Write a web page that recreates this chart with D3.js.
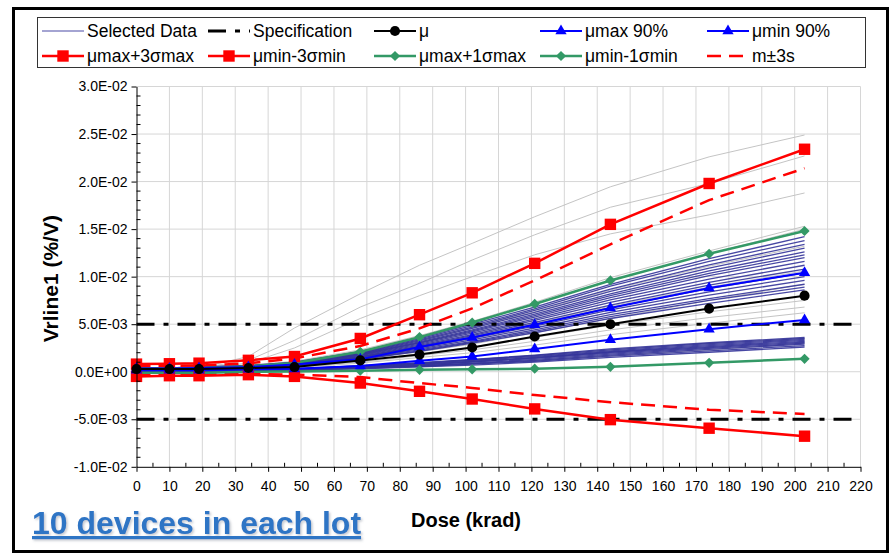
<!DOCTYPE html>
<html>
<head>
<meta charset="utf-8">
<script src="https://cdn.jsdelivr.net/npm/d3@7"></script>
<style>
  html, body { margin: 0; padding: 0; background: #fff; }
  svg { display: block; font-family: "Liberation Sans", Arial, sans-serif; }
</style>
</head>
<body>
<svg id="chart" width="893" height="555"></svg>
<script>
// Vrline1 drift versus total dose. All values are in units of 1e-3 %/V.
const doses = [0, 10, 19, 34, 48, 68, 86, 102, 121, 144, 174, 203];

const xTicks = d3.range(0, 221, 10);
const yTicks = [-10, -5, 0, 5, 10, 15, 20, 25, 30];
const specLimits = [5, -5];
const specDoseRange = [0, 220];

// statistics
const mu               = [0.28, 0.28, 0.28, 0.39, 0.49, 1.19, 1.80, 2.55, 3.70, 5.00, 6.64, 8.00];
const muMax90          = [0.35, 0.35, 0.40, 0.50, 0.75, 1.30, 2.60, 3.60, 4.95, 6.70, 8.80, 10.40];
const muMin90          = [0.15, 0.15, 0.15, 0.25, 0.30, 0.60, 1.16, 1.60, 2.38, 3.36, 4.48, 5.45];
const muMaxPlus3Sigma  = [0.80, 0.84, 0.90, 1.20, 1.60, 3.50, 6.00, 8.30, 11.40, 15.50, 19.80, 23.40];
const muMinMinus3Sigma = [-0.49, -0.42, -0.42, -0.31, -0.49, -1.19, -2.06, -2.87, -3.91, -5.04, -5.94, -6.78];
const muMaxPlus1Sigma  = [0.30, 0.30, 0.40, 0.56, 0.91, 2.10, 3.64, 5.17, 7.13, 9.60, 12.40, 14.80];
const muMinMinus1Sigma = [-0.12, -0.12, -0.14, 0.00, 0.03, 0.10, 0.20, 0.25, 0.32, 0.52, 0.94, 1.36];
const mPlus3s          = [0.60, 0.60, 0.65, 0.88, 1.40, 2.70, 4.56, 6.67, 9.60, 13.40, 18.05, 21.40];
const mMinus3s         = [-0.35, -0.30, -0.30, -0.25, -0.30, -0.56, -1.20, -1.70, -2.45, -3.20, -4.00, -4.44];

// selected devices, upper lots
const selectedUpper = [
  [0.40, 0.40, 0.50, 0.65, 1.00, 2.10, 3.55, 5.00, 6.80, 9.20, 11.90, 14.20],
  [0.40, 0.40, 0.50, 0.60, 0.95, 2.05, 3.45, 4.85, 6.60, 9.00, 11.60, 13.80],
  [0.40, 0.40, 0.45, 0.60, 0.95, 2.00, 3.35, 4.70, 6.45, 8.70, 11.25, 13.40],
  [0.35, 0.40, 0.45, 0.60, 0.90, 1.95, 3.25, 4.55, 6.25, 8.45, 10.90, 13.00],
  [0.35, 0.35, 0.45, 0.55, 0.90, 1.90, 3.15, 4.40, 6.05, 8.20, 10.60, 12.60],
  [0.35, 0.35, 0.45, 0.55, 0.85, 1.85, 3.05, 4.30, 5.90, 8.00, 10.35, 12.30],
  [0.35, 0.35, 0.40, 0.55, 0.85, 1.80, 3.00, 4.20, 5.75, 7.80, 10.10, 12.00],
  [0.35, 0.35, 0.40, 0.50, 0.80, 1.75, 2.90, 4.05, 5.55, 7.55, 9.75, 11.60],
  [0.30, 0.35, 0.40, 0.50, 0.80, 1.70, 2.80, 3.90, 5.40, 7.30, 9.40, 11.20],
  [0.30, 0.30, 0.40, 0.50, 0.75, 1.60, 2.70, 3.80, 5.20, 7.00, 9.10, 10.80],
  [0.30, 0.30, 0.35, 0.45, 0.75, 1.55, 2.60, 3.65, 5.00, 6.75, 8.75, 10.40],
  [0.30, 0.30, 0.35, 0.45, 0.70, 1.50, 2.50, 3.50, 4.80, 6.50, 8.40, 10.00],
  [0.30, 0.30, 0.35, 0.45, 0.65, 1.45, 2.40, 3.35, 4.60, 6.25, 8.05, 9.60],
  [0.30, 0.30, 0.30, 0.40, 0.65, 1.40, 2.30, 3.20, 4.40, 6.00, 7.70, 9.20],
  [0.25, 0.30, 0.30, 0.40, 0.60, 1.35, 2.20, 3.10, 4.25, 5.80, 7.50, 8.90],
  [0.25, 0.25, 0.30, 0.40, 0.60, 1.30, 2.15, 3.00, 4.10, 5.60, 7.20, 8.60]
];

// selected devices, lower lot
const selectedLower = [
  [0.10, 0.10, 0.15, 0.20, 0.30, 0.65, 0.95, 1.30, 1.75, 2.40, 3.05, 3.60],
  [0.10, 0.10, 0.15, 0.20, 0.30, 0.60, 0.90, 1.25, 1.70, 2.30, 2.95, 3.50],
  [0.10, 0.10, 0.10, 0.20, 0.25, 0.55, 0.85, 1.20, 1.60, 2.20, 2.85, 3.40],
  [0.05, 0.10, 0.10, 0.15, 0.25, 0.50, 0.80, 1.10, 1.50, 2.10, 2.75, 3.30],
  [0.05, 0.05, 0.10, 0.15, 0.25, 0.50, 0.75, 1.05, 1.45, 2.05, 2.65, 3.20],
  [0.05, 0.05, 0.10, 0.15, 0.20, 0.45, 0.70, 1.00, 1.40, 1.95, 2.55, 3.10],
  [0.05, 0.05, 0.05, 0.10, 0.20, 0.40, 0.65, 0.90, 1.30, 1.85, 2.45, 3.00],
  [0.00, 0.05, 0.05, 0.10, 0.20, 0.40, 0.60, 0.85, 1.20, 1.75, 2.35, 2.90],
  [0.00, 0.00, 0.05, 0.10, 0.15, 0.35, 0.55, 0.80, 1.10, 1.65, 2.20, 2.75],
  [0.00, 0.00, 0.00, 0.05, 0.15, 0.30, 0.50, 0.70, 1.00, 1.50, 2.05, 2.60]
];

// remaining devices (not selected)
const otherDevices = [
  [0.30, 0.30, 0.40, 1.60, 4.60, 8.20, 11.20, 13.50, 16.30, 19.45, 22.60, 24.90],
  [0.30, 0.30, 0.40, 1.20, 3.30, 6.80, 9.30, 11.75, 14.40, 17.30, 19.80, 22.70],
  [0.30, 0.30, 0.40, 0.90, 2.50, 5.60, 8.00, 10.00, 12.30, 14.50, 16.50, 18.80],
  [0.40, 0.40, 0.50, 0.70, 1.10, 2.30, 3.80, 5.30, 7.30, 9.90, 12.70, 15.30],
  [0.40, 0.40, 0.50, 0.70, 1.00, 2.20, 3.70, 5.20, 7.10, 9.60, 12.40, 15.00],
  [0.30, 0.30, 0.40, 0.60, 0.90, 2.00, 3.30, 4.60, 6.30, 8.60, 11.10, 13.20],
  [0.30, 0.30, 0.40, 0.50, 0.80, 1.60, 2.70, 3.70, 5.10, 6.90, 8.90, 10.60],
  [0.20, 0.20, 0.30, 0.40, 0.70, 1.30, 2.10, 2.90, 4.10, 5.60, 7.50, 9.20],
  [0.20, 0.20, 0.30, 0.40, 0.60, 1.10, 1.90, 2.60, 3.60, 4.90, 6.30, 7.50],
  [0.20, 0.20, 0.30, 0.35, 0.50, 1.00, 1.70, 2.30, 3.20, 4.40, 5.70, 6.80],
  [0.10, 0.10, 0.20, 0.30, 0.45, 0.90, 1.50, 2.00, 2.80, 3.90, 5.10, 6.20],
  [0.10, 0.10, 0.10, 0.20, 0.30, 0.60, 0.90, 1.20, 1.70, 2.30, 3.00, 3.50],
  [0.00, 0.00, 0.10, 0.10, 0.20, 0.40, 0.60, 0.80, 1.20, 1.70, 2.30, 3.00]
];

const UNIT = 1e-3;

// ---------------------------------------------------------------------------
const svg = d3.select("#chart");
const plot = { left: 136.5, right: 860.5, top: 86.5, bottom: 466.8 };

const x = d3.scaleLinear().domain([0, 220]).range([plot.left, plot.right]);
const y = d3.scaleLinear().domain([-10, 30]).range([plot.bottom, plot.top]);

function sci(v) {
  const s = (v * UNIT).toExponential(1);
  let [m, e] = s.split("e");
  const sign = e[0] === "-" ? "-" : "+";
  const digits = e.replace(/^[+-]/, "").padStart(2, "0");
  return m + "E" + sign + digits;
}

const RED = "#ff0000", BLUE = "#0000ff", GREEN = "#339966", NAVY = "#333399", GREY = "#c4c4c4";

// soft shadow for the note text
const defs = svg.append("defs");
const shadow = defs.append("filter").attr("id", "noteShadow")
  .attr("x", "-5%").attr("y", "-20%").attr("width", "115%").attr("height", "150%");
shadow.append("feDropShadow").attr("dx", 1.5).attr("dy", 1.5).attr("stdDeviation", 0.8)
  .attr("flood-color", "#7a8494").attr("flood-opacity", 0.45);

// outer frame
svg.append("rect")
  .attr("x", 13.5).attr("y", 8.5).attr("width", 874).attr("height", 543)
  .attr("fill", "#fff").attr("stroke", "#000").attr("stroke-width", 3);

// gridlines
const grid = svg.append("g").attr("stroke", "#d6d6d6").attr("stroke-width", 1);
grid.selectAll("line.v").data(xTicks.filter(d => d > 0)).join("line")
  .attr("x1", d => x(d)).attr("x2", d => x(d))
  .attr("y1", plot.top).attr("y2", plot.bottom);
grid.selectAll("line.h").data(yTicks.filter(d => d > -10)).join("line")
  .attr("x1", plot.left).attr("x2", plot.right)
  .attr("y1", d => y(d)).attr("y2", d => y(d));

const line = d3.line().x((d, i) => x(doses[i])).y(d => y(d));

// individual devices
svg.append("g").selectAll("path").data(otherDevices).join("path")
  .attr("d", line).attr("fill", "none")
  .attr("stroke", GREY).attr("stroke-width", 1);

svg.append("g").selectAll("path").data(selectedUpper.concat(selectedLower)).join("path")
  .attr("d", line).attr("fill", "none")
  .attr("stroke", NAVY).attr("stroke-opacity", 0.9).attr("stroke-width", 1.3);

// specification limits
const SPEC_DASH = "18,9,5,9";
svg.append("g").selectAll("line").data(specLimits).join("line")
  .attr("x1", x(specDoseRange[0])).attr("x2", x(specDoseRange[1]))
  .attr("y1", d => y(d)).attr("y2", d => y(d))
  .attr("stroke", "#000").attr("stroke-width", 3).attr("stroke-dasharray", SPEC_DASH);

// statistic series
const symSquare = d3.symbol(d3.symbolSquare, 130)();
const symDiamond = d3.symbol(d3.symbolSquare, 52)();
const symTriangle = d3.symbol(d3.symbolTriangle, 55)();
const symCircle = d3.symbol(d3.symbolCircle, 80)();

const series = [
  { name: "μ",            values: mu,               color: "#000", width: 2,   marker: symCircle,   rot: 0 },
  { name: "μmax 90%",     values: muMax90,          color: BLUE,   width: 2,   marker: symTriangle, rot: 0 },
  { name: "μmin 90%",     values: muMin90,          color: BLUE,   width: 2,   marker: symTriangle, rot: 0 },
  { name: "μmax+3σmax",   values: muMaxPlus3Sigma,  color: RED,    width: 2.5, marker: symSquare,   rot: 0 },
  { name: "μmin-3σmin",   values: muMinMinus3Sigma, color: RED,    width: 2.5, marker: symSquare,   rot: 0 },
  { name: "μmax+1σmax",   values: muMaxPlus1Sigma,  color: GREEN,  width: 2.5, marker: symDiamond,  rot: 45 },
  { name: "μmin-1σmin",   values: muMinMinus1Sigma, color: GREEN,  width: 2.5, marker: symDiamond,  rot: 45 },
];

const RED_DASH = "14,8";
[mPlus3s, mMinus3s].forEach(vals => {
  svg.append("path").attr("d", line(vals)).attr("fill", "none")
    .attr("stroke", RED).attr("stroke-width", 2.5).attr("stroke-dasharray", RED_DASH);
});

// draw in reverse so mean sits on top
series.slice().reverse().forEach(s => {
  const g = svg.append("g");
  g.append("path").attr("d", line(s.values)).attr("fill", "none")
    .attr("stroke", s.color).attr("stroke-width", s.width);
  g.selectAll("path.m").data(s.values).join("path").attr("class", "m")
    .attr("d", s.marker)
    .attr("transform", (d, i) => `translate(${x(doses[i])},${y(d)}) rotate(${s.rot})`)
    .attr("fill", s.color);
});

// axes
const fontTick = 14;
const yAxis = d3.axisLeft(y).tickValues(yTicks).tickFormat(sci)
  .tickSizeInner(5).tickSizeOuter(0).tickPadding(4);
const gy = svg.append("g").attr("transform", `translate(${plot.left},0)`).call(yAxis);
gy.selectAll("text").attr("font-size", fontTick).attr("fill", "#000")
  .attr("font-family", '"Liberation Sans", Arial, sans-serif');
gy.selectAll("line, path").attr("stroke", "#000");

// minor y ticks (inside)
svg.append("g").selectAll("line").data(d3.range(-10, 30.01, 1).filter(v => Math.abs(v % 5) > 0.01)).join("line")
  .attr("x1", plot.left).attr("x2", plot.left + 4)
  .attr("y1", d => y(d)).attr("y2", d => y(d)).attr("stroke", "#000");

const xAxis = d3.axisBottom(x).tickValues(xTicks).tickFormat(d3.format("d"))
  .tickSizeInner(5).tickSizeOuter(0).tickPadding(9);
const gx = svg.append("g").attr("transform", `translate(0,${plot.bottom})`).call(xAxis);
gx.selectAll("text").attr("font-size", fontTick).attr("fill", "#000")
  .attr("font-family", '"Liberation Sans", Arial, sans-serif');
gx.selectAll("line, path").attr("stroke", "#000");

svg.append("g").selectAll("line").data(d3.range(5, 220, 10)).join("line")
  .attr("x1", d => x(d)).attr("x2", d => x(d))
  .attr("y1", plot.bottom - 4).attr("y2", plot.bottom).attr("stroke", "#000");

// axis titles
svg.append("text")
  .attr("transform", `translate(50,${(plot.top + plot.bottom) / 2 + 2}) rotate(-90)`)
  .attr("text-anchor", "middle").attr("dominant-baseline", "central")
  .attr("font-size", 21).attr("font-weight", "bold").text("Vrline1 (%/V)");

svg.append("text")
  .attr("x", 466).attr("y", 527).attr("text-anchor", "middle")
  .attr("font-size", 20).attr("font-weight", "bold").text("Dose (krad)");

// note
svg.append("text").attr("x", 32).attr("y", 534)
  .attr("font-size", 32).attr("font-weight", "bold").attr("fill", "#2e74c5")
  .attr("text-decoration", "underline").attr("filter", "url(#noteShadow)")
  .text("10 devices in each lot");

// legend
const legendBox = svg.append("g");
legendBox.append("rect").attr("x", 37.5).attr("y", 17.5).attr("width", 828).attr("height", 50)
  .attr("fill", "#fff").attr("stroke", "#333").attr("stroke-width", 1);

const legendItems = [
  { label: "Selected Data", color: NAVY, width: 1.3, opacity: 0.6, marker: null },
  { label: "Specification", color: "#000", width: 3, dash: SPEC_DASH, marker: null },
  { label: "μ",             color: "#000", width: 2, marker: symCircle, rot: 0 },
  { label: "μmax 90%",      color: BLUE, width: 2, marker: symTriangle, rot: 0 },
  { label: "μmin 90%",      color: BLUE, width: 2, marker: symTriangle, rot: 0 },
  { label: "μmax+3σmax",    color: RED, width: 2.5, marker: symSquare, rot: 0 },
  { label: "μmin-3σmin",    color: RED, width: 2.5, marker: symSquare, rot: 0 },
  { label: "μmax+1σmax",    color: GREEN, width: 2.5, marker: symDiamond, rot: 45 },
  { label: "μmin-1σmin",    color: GREEN, width: 2.5, marker: symDiamond, rot: 45 },
  { label: "m±3s",          color: RED, width: 2.5, dash: RED_DASH, marker: null },
];
const colX = [42, 208, 374, 540, 707];
const rowY = [31, 56];
legendItems.forEach((it, i) => {
  const cx = colX[i % 5], cy = rowY[Math.floor(i / 5)];
  const g = legendBox.append("g").attr("transform", `translate(${cx},${cy})`);
  g.append("line").attr("x1", 0).attr("x2", 42).attr("y1", 0).attr("y2", 0)
    .attr("stroke", it.color).attr("stroke-width", it.width)
    .attr("stroke-opacity", it.opacity || 1)
    .attr("stroke-dasharray", it.dash || null);
  if (it.marker) {
    g.append("path").attr("d", it.marker)
      .attr("transform", `translate(21,0) rotate(${it.rot})`).attr("fill", it.color);
  }
  g.append("text").attr("x", 45).attr("y", 0).attr("dy", "0.35em")
    .attr("font-size", 17.5).attr("fill", "#000").text(it.label);
});
</script>
</body>
</html>
